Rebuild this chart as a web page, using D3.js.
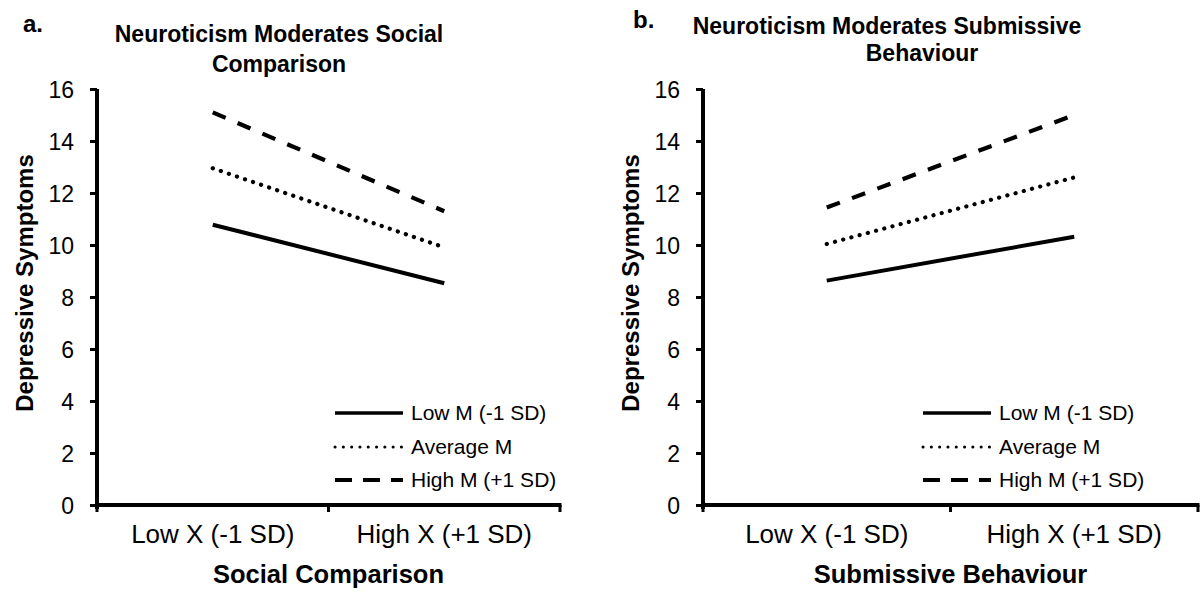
<!DOCTYPE html>
<html>
<head>
<meta charset="utf-8">
<script src="https://cdn.jsdelivr.net/npm/d3@7"></script>
<style>
  body { margin: 0; background: #fff; }
  text { font-family: "Liberation Sans", Arial, sans-serif; fill: #000; }
</style>
</head>
<body>
<script>
// data
var categories = ["Low X (-1 SD)", "High X (+1 SD)"];
var seriesNames = ["Low M (-1 SD)", "Average M", "High M (+1 SD)"];
var yTicks = [0, 2, 4, 6, 8, 10, 12, 14, 16];

var socialLow = [10.78, 8.53],
  socialAvg = [12.95, 9.91],
  socialHigh = [15.1, 11.3];

var submissiveLow = [8.63, 10.32],
  submissiveAvg = [10.04, 12.6],
  submissiveHigh = [11.44, 15.0];

var width = 1201, height = 592;

var svg = d3.select("body").append("svg")
  .attr("width", width)
  .attr("height", height);

// line styles: solid, round dots, dashes
var styles = [
  { dash: null, cap: "butt" },
  { dash: "0.1,8.4", cap: "round" },
  { dash: "14,13", cap: "butt" }
];
var legendStyles = [
  { dash: null, cap: "butt", w: 3.5 },
  { dash: "0.1,8.2", cap: "round", w: 3 },
  { dash: "17,11", cap: "butt", w: 4 }
];

function drawPanel(p) {
  var g = svg.append("g");

  var x = d3.scaleBand().domain(categories).range([p.x0, p.x1]);
  var y = d3.scaleLinear().domain([0, 16]).range([505, 89]);

  // y axis
  var yAxis = d3.axisLeft(y).tickValues(yTicks).tickSizeInner(7).tickSizeOuter(0).tickPadding(16);
  var ya = g.append("g").attr("transform", "translate(" + p.x0 + ",0)").call(yAxis);
  ya.select(".domain").attr("stroke", "#000").attr("stroke-width", 4).attr("d", "M0,89V509");
  ya.selectAll(".tick line").attr("stroke", "#000").attr("stroke-width", 3);
  ya.selectAll(".tick text").attr("font-size", 23).attr("dy", "0.36em");

  // x axis: labels at centres, ticks at category boundaries
  var xAxis = d3.axisBottom(x).tickSize(0).tickPadding(20);
  var xa = g.append("g").attr("transform", "translate(0,505)").call(xAxis);
  xa.select(".domain").remove();
  xa.selectAll(".tick text").attr("font-size", 26);
  g.append("line")
    .attr("x1", p.x0).attr("x2", p.x1 + 1.5)
    .attr("y1", 505).attr("y2", 505)
    .attr("stroke", "#000").attr("stroke-width", 4);
  var bounds = [p.x0, x(categories[1]), p.x1];
  g.selectAll(".bt").data(bounds).enter().append("line")
    .attr("x1", function(d) { return d; }).attr("x2", function(d) { return d; })
    .attr("y1", 505).attr("y2", 512)
    .attr("stroke", "#000").attr("stroke-width", 3);

  // series lines
  var line = d3.line()
    .x(function(d, i) { return x(categories[i]) + x.bandwidth() / 2; })
    .y(function(d) { return y(d); });

  p.series.forEach(function(s, i) {
    g.append("path")
      .datum(s)
      .attr("d", line)
      .attr("fill", "none")
      .attr("stroke", "#000")
      .attr("stroke-width", i == 0 ? 4 : 4.2)
      .attr("stroke-linecap", styles[i].cap)
      .attr("stroke-dasharray", styles[i].dash);
  });

  // legend
  var lg = g.append("g");
  seriesNames.forEach(function(name, i) {
    var ly = [413, 447, 480][i];
    lg.append("line")
      .attr("x1", p.legX).attr("x2", p.legX + 68)
      .attr("y1", ly).attr("y2", ly)
      .attr("stroke", "#000")
      .attr("stroke-width", legendStyles[i].w)
      .attr("stroke-linecap", legendStyles[i].cap)
      .attr("stroke-dasharray", legendStyles[i].dash);
    lg.append("text")
      .attr("x", p.legX + 76).attr("y", ly)
      .attr("dy", "0.35em")
      .attr("font-size", 21)
      .text(name);
  });

  // titles
  p.title.forEach(function(t, i) {
    g.append("text")
      .attr("x", t.cx).attr("y", t.y)
      .attr("text-anchor", "middle")
      .attr("font-size", 23).attr("font-weight", "bold")
      .text(t.text);
  });
  g.append("text")
    .attr("x", p.letter.x).attr("y", p.letter.y)
    .attr("font-size", 24).attr("font-weight", "bold")
    .text(p.letter.text);

  g.append("text")
    .attr("x", (p.x0 + p.x1) / 2).attr("y", 583)
    .attr("text-anchor", "middle")
    .attr("font-size", 25.5).attr("font-weight", "bold")
    .text(p.xTitle);

  g.append("text")
    .attr("transform", "translate(" + p.yTitleX + ",283) rotate(-90)")
    .attr("text-anchor", "middle")
    .attr("font-size", 24).attr("font-weight", "bold")
    .text("Depressive Symptoms");
}

drawPanel({
  x0: 97, x1: 560,
  series: [socialLow, socialAvg, socialHigh],
  legX: 335,
  title: [
    { text: "Neuroticism Moderates Social", cx: 279, y: 42 },
    { text: "Comparison", cx: 279, y: 72 }
  ],
  letter: { text: "a.", x: 23, y: 32 },
  xTitle: "Social Comparison",
  yTitleX: 33
});

drawPanel({
  x0: 703, x1: 1198,
  series: [submissiveLow, submissiveAvg, submissiveHigh],
  legX: 923,
  title: [
    { text: "Neuroticism Moderates Submissive", cx: 887, y: 34 },
    { text: "Behaviour", cx: 922, y: 61 }
  ],
  letter: { text: "b.", x: 633, y: 28 },
  xTitle: "Submissive Behaviour",
  yTitleX: 639
});
</script>
</body>
</html>
